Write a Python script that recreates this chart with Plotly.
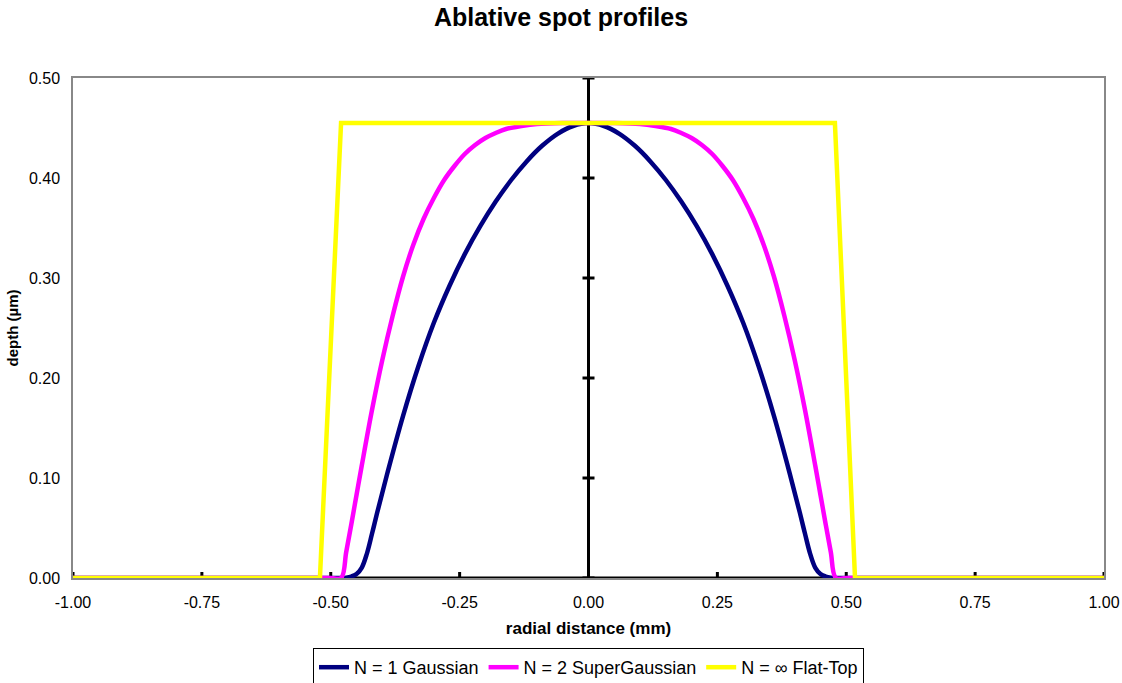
import plotly.graph_objects as go

# Ablation depth profiles (radial distance in mm, depth in µm)
gauss_x = [-1.00, -0.50, -0.480, -0.470, -0.460, -0.450, -0.440, -0.430, -0.420, -0.410,
           -0.390, -0.360, -0.330, -0.300, -0.270, -0.240, -0.210, -0.180, -0.150,
           -0.120, -0.090, -0.060, -0.030, 0.000, 0.030, 0.060, 0.090, 0.120, 0.150,
           0.180, 0.210, 0.240, 0.270, 0.300, 0.330, 0.360, 0.390, 0.410, 0.420,
           0.430, 0.440, 0.450, 0.460, 0.470, 0.480, 0.50, 1.00]
gauss_y = [0.0, 0.0, 0.0, 0.0003, 0.0015, 0.004, 0.0102, 0.0242, 0.0442, 0.0652,
           0.1052, 0.1616, 0.2117, 0.2552, 0.2918, 0.3239, 0.3518, 0.3764, 0.3980,
           0.4166, 0.4322, 0.4442, 0.4520, 0.455, 0.4520, 0.4442, 0.4322, 0.4166, 0.3980,
           0.3764, 0.3518, 0.3239, 0.2918, 0.2552, 0.2117, 0.1616, 0.1052, 0.0652, 0.0442,
           0.0242, 0.0102, 0.004, 0.0015, 0.0003, 0.0, 0.0, 0.0]

super_x = [-1.00, -0.50, -0.480, -0.470, -0.460, -0.450, -0.440, -0.420, -0.400, -0.380,
           -0.360, -0.340, -0.320, -0.300, -0.280, -0.260, -0.240, -0.220, -0.200,
           -0.180, -0.160, -0.130, -0.100, -0.050, 0.000, 0.050, 0.100, 0.130, 0.160,
           0.180, 0.200, 0.220, 0.240, 0.260, 0.280, 0.300, 0.320, 0.340, 0.360,
           0.380, 0.400, 0.420, 0.440, 0.450, 0.460, 0.470, 0.480, 0.50, 1.00]
super_y = [0.0, 0.0, 0.0, 0.026, 0.054, 0.083, 0.112, 0.168, 0.218, 0.262,
           0.301, 0.333, 0.359, 0.380, 0.398, 0.412, 0.424, 0.433, 0.440,
           0.445, 0.449, 0.452, 0.454, 0.455, 0.455, 0.455, 0.454, 0.452, 0.449,
           0.445, 0.440, 0.433, 0.424, 0.412, 0.398, 0.380, 0.359, 0.333, 0.301,
           0.262, 0.218, 0.168, 0.112, 0.083, 0.054, 0.026, 0.0, 0.0, 0.0]

flat_x = [-1.00, -0.521, -0.480, 0.478, 0.517, 1.00]
flat_y = [0.0, 0.0, 0.455, 0.455, 0.0, 0.0]

x_ticks = [-1.00, -0.75, -0.50, -0.25, 0.00, 0.25, 0.50, 0.75, 1.00]
y_ticks = [0.00, 0.10, 0.20, 0.30, 0.40, 0.50]

FONT = "Arial, Liberation Sans, sans-serif"

fig = go.Figure()
fig.add_trace(go.Scatter(x=gauss_x, y=gauss_y, mode="lines", name="N = 1 Gaussian",
                         line=dict(color="#000080", width=4.5, shape="spline", smoothing=1.0)))
fig.add_trace(go.Scatter(x=super_x, y=super_y, mode="lines", name="N = 2 SuperGaussian",
                         line=dict(color="#FF00FF", width=4.5, shape="spline", smoothing=1.0)))
fig.add_trace(go.Scatter(x=flat_x, y=flat_y, mode="lines", name="N = \u221e Flat-Top",
                         line=dict(color="#FFFF00", width=4.5)))

shapes = []
# central axes through the origin
shapes.append(dict(type="line", xref="x", yref="y", x0=-1, x1=1, y0=0, y1=0,
                   line=dict(color="black", width=3), layer="below"))
shapes.append(dict(type="line", xref="x", yref="y", x0=0, x1=0, y0=0, y1=0.5,
                   line=dict(color="black", width=3), layer="below"))
# cross tick marks on the central axes
for xv in x_ticks:
    shapes.append(dict(type="line", xref="x", yref="y", x0=xv, x1=xv,
                       ysizemode="pixel", yanchor=0, y0=-6, y1=6,
                       line=dict(color="black", width=3), layer="below"))
for yv in y_ticks:
    shapes.append(dict(type="line", xref="x", yref="y", y0=yv, y1=yv,
                       xsizemode="pixel", xanchor=0, x0=-6, x1=6,
                       line=dict(color="black", width=3), layer="below"))

fig.update_layout(
    width=1122, height=683,
    margin=dict(l=73, r=18, t=78, b=105, autoexpand=False),
    paper_bgcolor="white", plot_bgcolor="white",
    font=dict(family=FONT, color="black", size=16),
    title=dict(text="<b>Ablative spot profiles</b>", x=0.5, xanchor="center",
               y=0.987, yanchor="top", font=dict(size=25, family=FONT)),
    xaxis=dict(range=[-1, 1], tickvals=x_ticks, ticktext=[f"{v:.2f}" for v in x_ticks],
               showgrid=False, zeroline=False, showline=True, linecolor="#888888",
               linewidth=1.5, mirror=True, ticks="", ticklabelstandoff=9,
               tickfont=dict(size=16), automargin=False,
               title=dict(text="<b>radial distance (mm)</b>", font=dict(size=17), standoff=12)),
    yaxis=dict(range=[0, 0.5], tickvals=y_ticks, ticktext=[f"{v:.2f}" for v in y_ticks],
               showgrid=False, zeroline=False, showline=True, linecolor="#888888",
               linewidth=1.5, mirror=True, ticks="", ticklabelstandoff=8,
               tickfont=dict(size=16), automargin=False,
               title=dict(text="<b>depth (\u00b5m)</b>", font=dict(size=15), standoff=7)),
    shapes=shapes,
    showlegend=True,
    legend=dict(orientation="h", x=0.5, xanchor="center", y=-0.14, yanchor="top",
                bordercolor="black", borderwidth=1, bgcolor="white",
                font=dict(size=18), itemwidth=30, tracegroupgap=0),
)

fig.write_html("out.html")
